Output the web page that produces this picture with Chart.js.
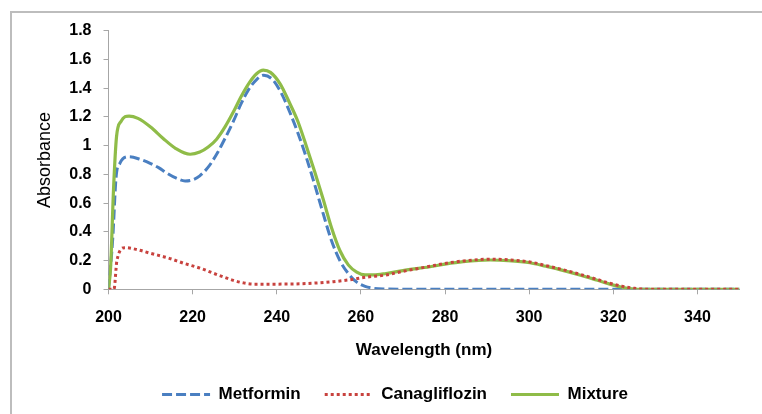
<!DOCTYPE html>
<html>
<head>
<meta charset="utf-8">
<script src="https://cdn.jsdelivr.net/npm/chart.js@4"></script>
<style>
  html, body { margin: 0; padding: 0; background: #fff; }
  #c { display: block; }
</style>
</head>
<body>
<canvas id="c" width="762" height="414"></canvas>
<script>
// ---- Data ----
const seriesNames = ['Metformin', 'Canagliflozin', 'Mixture'];

const metforminX = [200, 201, 201.8, 202.7, 204.9, 207.5, 209.9, 212, 213.8, 216, 218.2, 220, 221.7, 223.7, 225.7, 227.7, 229.7, 231.5, 233.3, 235.2, 236.9, 239, 241, 243, 245, 247, 249, 251, 253, 255, 257, 259, 261, 263, 266, 270, 350];
const metforminY = [0, 0.35, 0.78, 0.877, 0.923, 0.905, 0.877, 0.845, 0.81, 0.775, 0.754, 0.762, 0.79, 0.85, 0.94, 1.05, 1.17, 1.29, 1.39, 1.46, 1.49, 1.46, 1.37, 1.24, 1.09, 0.92, 0.73, 0.53, 0.34, 0.2, 0.11, 0.05, 0.02, 0.007, 0.002, 0, 0];

const canaX = [200, 201.3, 202, 203.9, 207, 210, 214, 218, 222, 226, 229.7, 232, 234.4, 240, 245.5, 250, 253.4, 257, 261.4, 266, 270, 276.4, 280, 284.3, 290.7, 295, 300.2, 304, 308, 312, 316, 319, 322, 325, 328, 350];
const canaY = [0, 0, 0.2, 0.29, 0.275, 0.25, 0.22, 0.18, 0.145, 0.1, 0.062, 0.045, 0.036, 0.036, 0.038, 0.045, 0.053, 0.065, 0.085, 0.1, 0.125, 0.16, 0.18, 0.197, 0.21, 0.205, 0.19, 0.165, 0.137, 0.105, 0.07, 0.043, 0.022, 0.007, 0, 0];

const mixtureX = [200, 200.5, 201.2, 201.9, 203, 204.9, 207, 210, 213, 216, 219.4, 221.7, 223.7, 225.7, 227.7, 229.7, 231.5, 233.3, 235.2, 236.8, 238.5, 240.8, 243, 245, 247, 249, 251, 253, 255, 257, 259, 261, 263, 266, 270, 276.4, 280, 284.3, 290.7, 295, 300.2, 304, 308, 312, 316, 319, 321.6, 324.7, 326, 350];
const mixtureY = [0, 0.15, 0.7, 1.06, 1.17, 1.206, 1.19, 1.13, 1.05, 0.98, 0.94, 0.955, 0.99, 1.045, 1.13, 1.235, 1.34, 1.43, 1.5, 1.526, 1.51, 1.43, 1.3, 1.17, 1.0, 0.82, 0.63, 0.43, 0.27, 0.17, 0.12, 0.1, 0.1, 0.11, 0.13, 0.157, 0.175, 0.192, 0.204, 0.2, 0.185, 0.16, 0.132, 0.1, 0.065, 0.038, 0.018, 0.002, 0, 0];

const xTickMin = 200, xTickMax = 350, xTickStep = 20;
const yTickMin = 0, yTickMax = 1.8, yTickStep = 0.2;

const toPoints = (xs, ys) => xs.map((x, i) => ({ x: x, y: ys[i] }));

const FONT = 'Liberation Sans, Arial, Helvetica, sans-serif';
const AXIS_GRAY = '#a6a6a6';

const framePlugin = {
  id: 'frame',
  beforeDraw(chart) {
    const ctx = chart.ctx;
    ctx.save();
    ctx.fillStyle = '#ffffff';
    ctx.fillRect(0, 0, chart.width, chart.height);
    ctx.strokeStyle = '#bdbdbd';
    ctx.lineWidth = 2;
    ctx.strokeRect(11, 12, 900, 600);
    ctx.restore();
  }
};

new Chart(document.getElementById('c'), {
  type: 'line',
  data: {
    datasets: [
      {
        label: seriesNames[0],
        data: toPoints(metforminX, metforminY),
        borderColor: '#4a7fc1',
        backgroundColor: '#4a7fc1',
        borderWidth: 3,
        borderDash: [10, 4],
        pointRadius: 0,
        cubicInterpolationMode: 'monotone',
        order: 2
      },
      {
        label: seriesNames[1],
        data: toPoints(canaX, canaY),
        borderColor: '#c8423e',
        backgroundColor: '#c8423e',
        borderWidth: 3,
        borderDash: [3, 3],
        pointRadius: 0,
        cubicInterpolationMode: 'monotone',
        order: 0
      },
      {
        label: seriesNames[2],
        data: toPoints(mixtureX, mixtureY),
        borderColor: '#8fbc48',
        backgroundColor: '#8fbc48',
        borderWidth: 3.2,
        pointRadius: 0,
        cubicInterpolationMode: 'monotone',
        order: 1
      }
    ]
  },
  options: {
    responsive: false,
    devicePixelRatio: 1,
    animation: false,
    events: [],
    layout: { padding: { left: 50.5, right: 22.5, top: 30.7, bottom: 1 } },
    plugins: {
      tooltip: { enabled: false },
      legend: {
        position: 'bottom',
        labels: {
          usePointStyle: true,
          pointStyle: 'line',
          pointStyleWidth: 48,
          padding: 24,
          color: '#000',
          font: { family: FONT, size: 17, weight: 'bold' },
          sort: (a, b) => a.datasetIndex - b.datasetIndex,
          generateLabels(chart) {
            const items = Chart.defaults.plugins.legend.labels.generateLabels(chart);
            items.forEach(it => {
              const ds = chart.data.datasets[it.datasetIndex];
              it.lineDash = ds.borderDash || [];
              it.lineWidth = ds.borderWidth;
              it.strokeStyle = ds.borderColor;
              it.fillStyle = ds.borderColor;
            });
            return items;
          }
        }
      }
    },
    scales: {
      x: {
        type: 'linear',
        min: xTickMin,
        max: xTickMax,
        ticks: {
          stepSize: xTickStep,
          includeBounds: false,
          padding: 14,
          color: '#000',
          maxRotation: 0,
          font: { family: FONT, size: 16, weight: 'bold' }
        },
        grid: { drawOnChartArea: false, drawTicks: true, tickLength: 5, color: AXIS_GRAY },
        border: { display: true, color: AXIS_GRAY, width: 1 },
        title: {
          display: true,
          text: 'Wavelength (nm)',
          color: '#000',
          font: { family: FONT, size: 17, weight: 'bold' },
          padding: { top: 0, bottom: 1 }
        },
        afterFit(scale) { scale.height = 72.7; }
      },
      y: {
        type: 'linear',
        min: yTickMin,
        max: yTickMax,
        ticks: {
          stepSize: yTickStep,
          padding: 12,
          color: '#000',
          font: { family: FONT, size: 16, weight: 'bold' },
          callback: v => String(Math.round(v * 10) / 10)
        },
        grid: { drawOnChartArea: false, drawTicks: true, tickLength: 5, color: AXIS_GRAY },
        border: { display: true, color: AXIS_GRAY, width: 1 },
        title: {
          display: true,
          text: 'Absorbance',
          color: '#000',
          font: { family: FONT, size: 18, weight: 'normal' },
          padding: { top: -15.8, bottom: 0 }
        },
        afterFit(scale) { scale.width = 58; }
      }
    }
  },
  plugins: [framePlugin]
});
</script>
</body>
</html>
